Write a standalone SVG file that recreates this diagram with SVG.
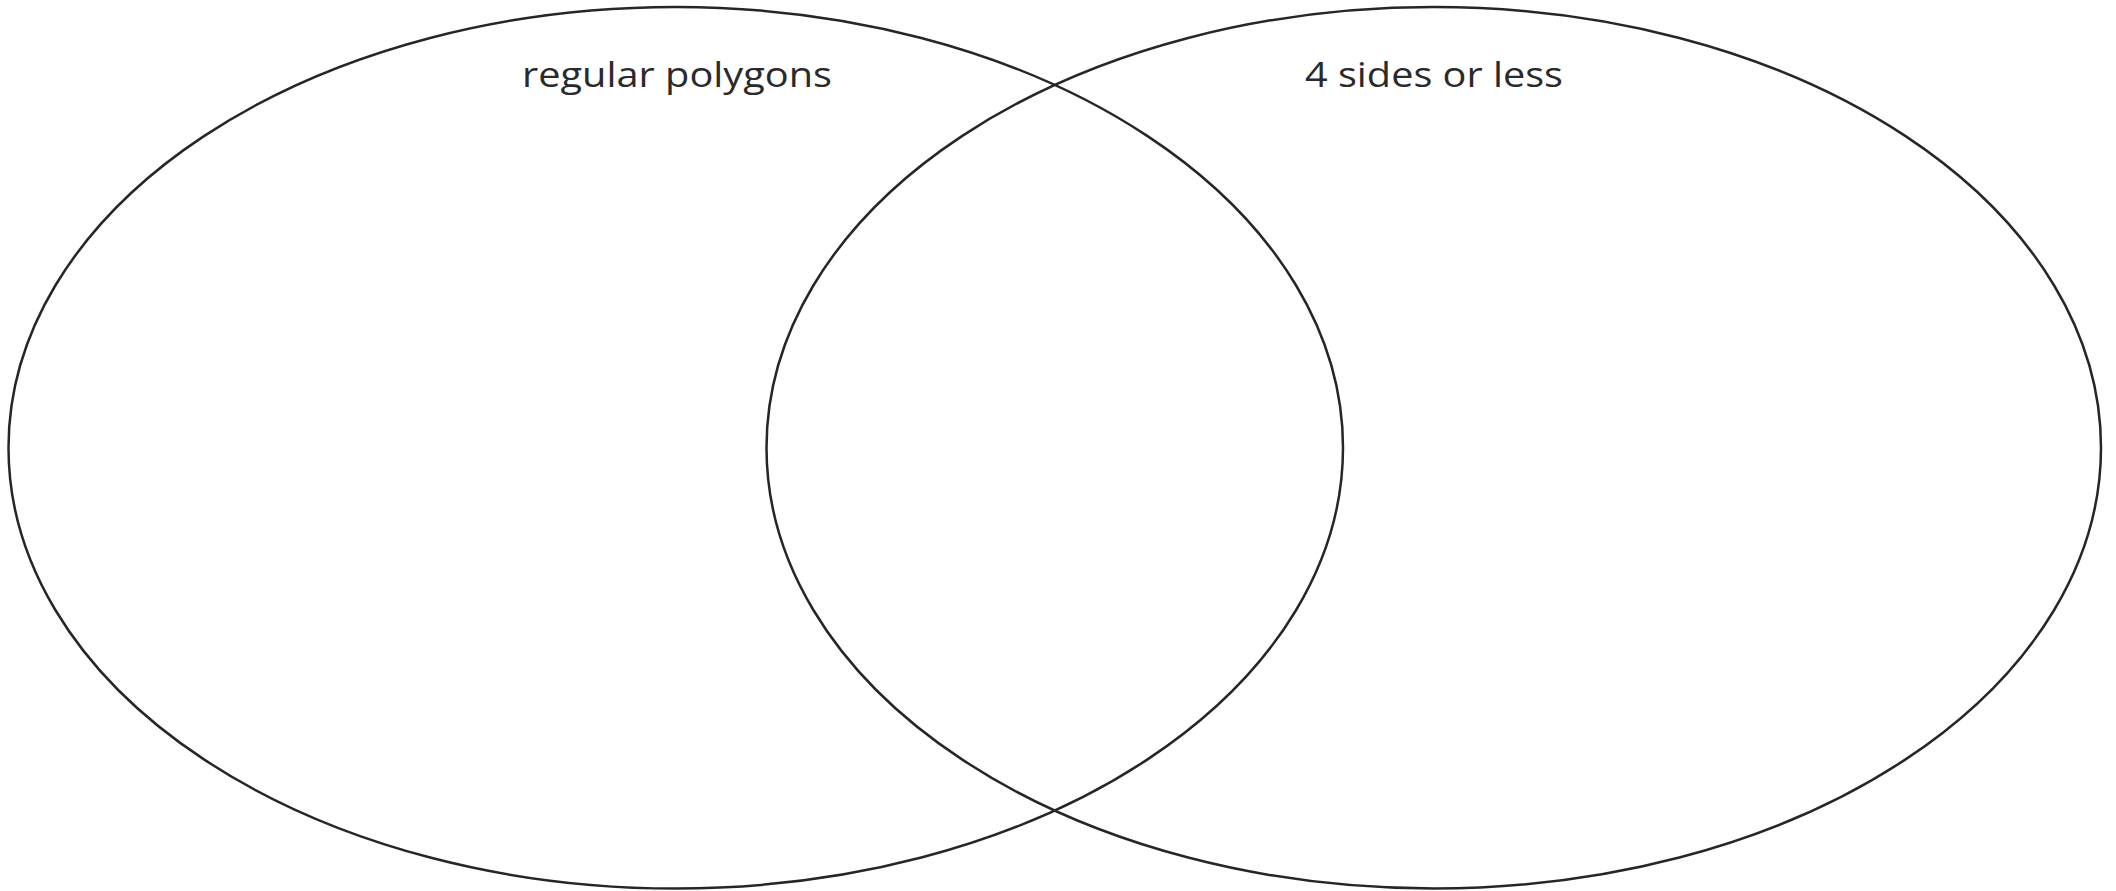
<svg xmlns="http://www.w3.org/2000/svg" width="2116" height="891" viewBox="0 0 2116 891">
<style>
.set{fill:none;stroke:#262626;stroke-width:2.5}
.lbl{font-family:"Open Sans","Liberation Sans",sans-serif;font-size:34px;fill:#2a2a2a}
</style>
<rect width="2116" height="891" fill="#fff"/>
<g id="set-regular-polygons">
<ellipse class="set" cx="675.75" cy="447.75" rx="667.25" ry="440.75"/>
<text class="lbl" x="522" y="87" textLength="310" lengthAdjust="spacingAndGlyphs">regular polygons</text>
</g>
<g id="set-4-sides-or-less">
<ellipse class="set" cx="1433.75" cy="447.75" rx="667.25" ry="440.75"/>
<text class="lbl" x="1305" y="87" textLength="258" lengthAdjust="spacingAndGlyphs">4 sides or less</text>
</g>
<g id="connectors"></g>
</svg>
